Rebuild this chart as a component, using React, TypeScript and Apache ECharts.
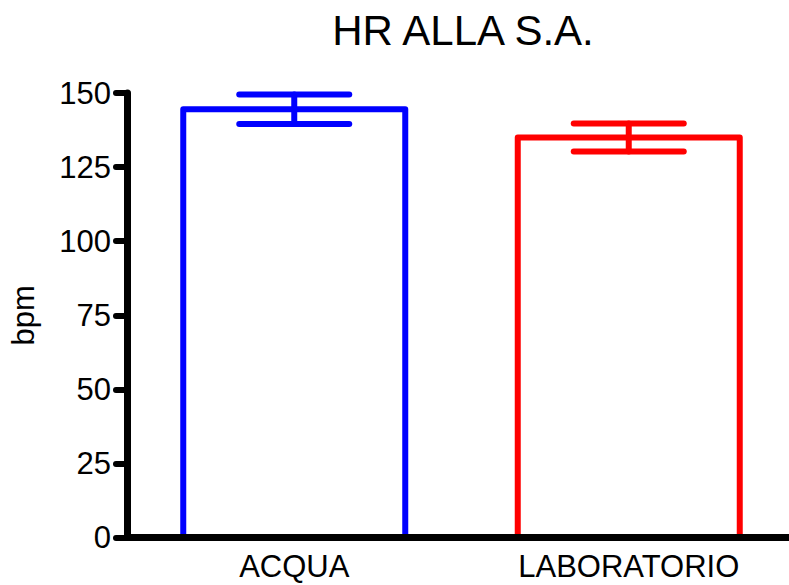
import React, { useEffect, useRef } from "react";
import * as echarts from "echarts";

const categories = ["ACQUA", "LABORATORIO"];
const means = [144.5, 135];
const errors = [5, 4.7];
const colors = ["#0000ff", "#ff0000"];
const title = "HR ALLA S.A.";
const yName = "bpm";

export default function App() {
  const ref = useRef<HTMLDivElement>(null);
  useEffect(() => {
    if (!ref.current) return;
    const chart = echarts.init(ref.current, null, { renderer: "svg" });
    const font = "'Liberation Sans', Arial, sans-serif";
    const narrow = "'Liberation Sans Narrow', 'Arial Narrow', 'Liberation Sans', Arial, sans-serif";
    chart.setOption({
      animation: false,
      title: {
        text: title,
        left: 458,
        top: 4,
        textAlign: "center",
        textStyle: { fontFamily: font, fontSize: 42, fontWeight: "normal", color: "#000" },
      },
      grid: { left: 127, right: -7, top: 93, bottom: 47.5, containLabel: false, outerBoundsMode: "none" },
      xAxis: {
        type: "category",
        data: categories,
        z: 10,
        axisLine: { lineStyle: { color: "#000", width: 7, cap: "round" } },
        axisTick: { alignWithLabel: true, length: 13, lineStyle: { color: "#000", width: 6, cap: "round" } },
        axisLabel: { interval: 0, margin: 13, fontFamily: font, fontSize: 31, color: "#000" },
      },
      yAxis: {
        type: "value",
        min: 0,
        max: 150,
        interval: 25,
        name: yName,
        nameLocation: "middle",
        nameRotate: 90,
        nameGap: 88,
        nameTextStyle: { fontFamily: font, fontSize: 31, color: "#000" },
        splitLine: { show: false },
        axisLine: { show: true, lineStyle: { color: "#000", width: 7, cap: "round" } },
        axisTick: { show: true, length: 11, lineStyle: { color: "#000", width: 6, cap: "round" } },
        axisLabel: { margin: 16, fontFamily: narrow, fontSize: 31, color: "#000" },
      },
      series: [
        {
          type: "custom",
          z: 2,
          data: means.map((v, i) => [i, v]),
          renderItem: (params: any, api: any) => {
            const i = api.value(0);
            const top = api.coord([i, api.value(1)]);
            const base = api.coord([i, 0]);
            const hw = 111;
            return {
              type: "polyline",
              shape: {
                points: [
                  [top[0] - hw, base[1]],
                  [top[0] - hw, top[1]],
                  [top[0] + hw, top[1]],
                  [top[0] + hw, base[1]],
                ],
              },
              style: { stroke: colors[i], lineWidth: 6, fill: null, lineJoin: "round" },
            };
          },
        },
        {
          type: "custom",
          z: 5,
          data: means.map((v, i) => [i, v - errors[i], v + errors[i]]),
          renderItem: (params: any, api: any) => {
            const i = api.value(0);
            const lo = api.coord([i, api.value(1)]);
            const hi = api.coord([i, api.value(2)]);
            const hw = 55;
            const style = { stroke: colors[i], lineWidth: 6, lineCap: "round" };
            return {
              type: "group",
              children: [
                { type: "line", shape: { x1: lo[0], y1: lo[1], x2: hi[0], y2: hi[1] }, style },
                { type: "line", shape: { x1: lo[0] - hw, y1: lo[1], x2: lo[0] + hw, y2: lo[1] }, style },
                { type: "line", shape: { x1: hi[0] - hw, y1: hi[1], x2: hi[0] + hw, y2: hi[1] }, style },
              ],
            };
          },
        },
      ],
    });
    return () => chart.dispose();
  }, []);
  return (
    <div
      ref={ref}
      style={{ position: "absolute", left: 0, top: 0, width: 789, height: 585, background: "#fff" }}
    />
  );
}
